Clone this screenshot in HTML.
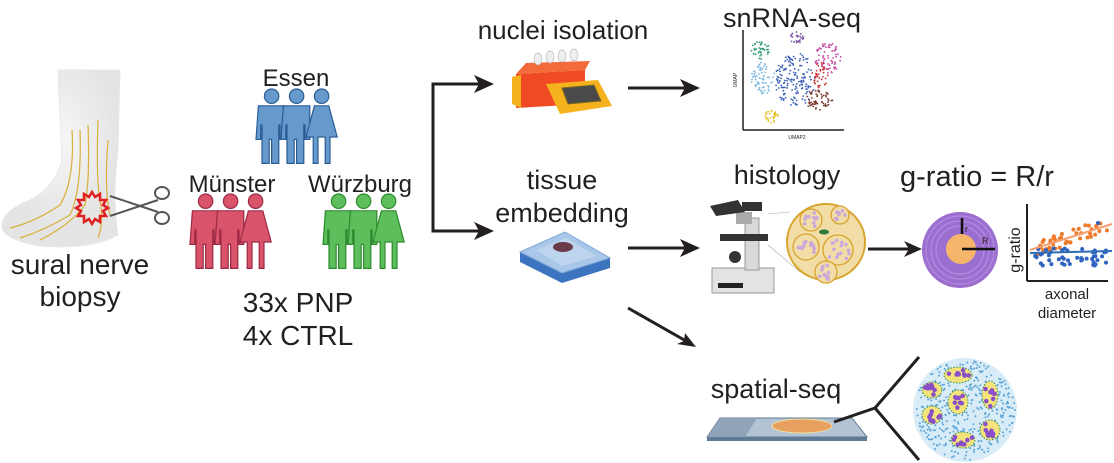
<!DOCTYPE html>
<html><head><meta charset="utf-8"><style>
body{margin:0;background:#fff;width:1114px;height:463px;overflow:hidden}
svg{display:block}
text{font-family:"Liberation Sans",Arial,sans-serif;fill:#231f20}
</style></head><body>
<svg id="s" width="1114" height="463" viewBox="0 0 1114 463" xmlns="http://www.w3.org/2000/svg">
<defs>
<radialGradient id="foot" cx="0.5" cy="0.4"><stop offset="0" stop-color="#f6f6f6"/><stop offset="1" stop-color="#e4e4e4"/></radialGradient>
</defs>
<!-- foot -->
<path d="M58,70 L120,70 L118,150 Q112,200 118,235 Q90,250 40,246 Q5,240 2,228 Q0,212 30,200 Q55,188 62,160 Z" fill="url(#foot)" stroke="#e8e8e8"/>
<g stroke="#d9b03a" stroke-width="1.2" fill="none">
<path d="M72,130 Q75,180 60,205 Q35,222 10,228"/><path d="M80,130 Q82,190 70,215 Q45,230 20,238"/>
<path d="M88,125 Q90,180 85,205 Q70,225 40,240"/><path d="M98,120 Q96,180 100,200 Q104,222 98,238"/>
<path d="M108,140 Q104,190 110,215"/>
</g>
<path d="M92,192 l3,5 5,-3 0,6 6,0 -3,5 5,3 -5,3 3,5 -6,0 0,6 -5,-3 -3,5 -3,-5 -5,3 0,-6 -6,0 3,-5 -5,-3 5,-3 -3,-5 6,0 0,-6 5,3z" fill="none" stroke="#e02020" stroke-width="2.5"/>
<g stroke="#555" stroke-width="2" fill="none"><line x1="110" y1="196" x2="158" y2="212"/><line x1="110" y1="216" x2="158" y2="200"/>
<ellipse cx="162" cy="193" rx="7" ry="6"/><ellipse cx="162" cy="218" rx="7" ry="6"/></g>
<text x="80" y="274" font-size="28" text-anchor="middle">sural nerve</text>
<text x="80" y="306" font-size="28" text-anchor="middle">biopsy</text>
<g id="people"></g>
<text x="296" y="86" font-size="24" text-anchor="middle">Essen</text>
<text x="232" y="192" font-size="24" text-anchor="middle">Münster</text>
<text x="360" y="192" font-size="24" text-anchor="middle">Würzburg</text>
<text x="298" y="312" font-size="28" text-anchor="middle">33x PNP</text>
<text x="298" y="345" font-size="28" text-anchor="middle">4x CTRL</text>
<g stroke="#231f20" stroke-width="3" fill="none">
<polyline points="485,84 433,84 433,231 485,231"/>
<line x1="628" y1="88" x2="690" y2="88"/><line x1="628" y1="248" x2="690" y2="248"/>
<line x1="628" y1="308" x2="686" y2="341"/><line x1="868" y1="249" x2="912" y2="249"/>
</g>
<g fill="#231f20">
<path d="M494,84 l-20,-9 5,9 -5,9z"/><path d="M494,231 l-20,-9 5,9 -5,9z"/>
<path d="M700,88 l-20,-9 5,9 -5,9z"/><path d="M700,248 l-20,-9 5,9 -5,9z"/>
<path d="M922,249 l-18,-8 5,8 -5,8z"/>
<path d="M696,347 l-19,-3 7,-3 1,-8z"/>
</g>
<text x="563" y="39" font-size="26" text-anchor="middle">nuclei isolation</text>
<!-- heat block -->
<path d="M516,74 L585,70 L585,104 L516,108Z" fill="#f04a24"/>
<path d="M516,74 L526,63 L590,61 L585,70Z" fill="#f36b3a"/>
<path d="M546,84 L598,80 L612,106 L560,114 Z" fill="#f6b21c"/>
<path d="M562,88 L594,85 L601,101 L568,104Z" fill="#4a4a4a" stroke="#7a6a20"/>
<path d="M512,77 L521,75 L521,108 L512,104Z" fill="#f6b21c"/>
<g fill="#eee" stroke="#bbb" stroke-width=".7"><ellipse cx="538" cy="59" rx="4" ry="6"/><ellipse cx="550" cy="57" rx="4" ry="6"/><ellipse cx="562" cy="56" rx="4" ry="6"/><ellipse cx="574" cy="55" rx="4" ry="6"/></g>
<text x="792" y="27" font-size="27" text-anchor="middle">snRNA-seq</text>
<g stroke="#231f20" stroke-width="1.5"><line x1="743" y1="30" x2="743" y2="130"/><line x1="743" y1="130" x2="844" y2="130"/></g>
<text x="737" y="80" font-size="5" transform="rotate(-90 737 80)" text-anchor="middle">UMAP</text>
<text x="797" y="139" font-size="5" text-anchor="middle">UMAP2</text>
<g id="umap"></g>
<text x="562" y="189" font-size="27" text-anchor="middle">tissue</text>
<text x="562" y="222" font-size="27" text-anchor="middle">embedding</text>
<!-- embedding plate -->
<path d="M520,262 L562,283 L610,268 L610,258 L562,273 L520,252Z" fill="#3d74c0"/>
<path d="M520,252 L565,232 L610,258 L562,273Z" fill="#a9c7e8" stroke="#7ea6d6"/>
<path d="M536,250 L566,238 L597,256 L562,266Z" fill="#bcd4ee"/>
<ellipse cx="563" cy="247" rx="10" ry="5" fill="#6b3a48"/>
<text x="787" y="184" font-size="27" text-anchor="middle">histology</text>
<!-- microscope -->
<g>
<rect x="712" y="268" width="62" height="25" fill="#e3e3e3" stroke="#999"/>
<rect x="745" y="218" width="14" height="52" fill="#d8d8d8" stroke="#999"/>
<rect x="720" y="234" width="48" height="7" fill="#333"/>
<rect x="736" y="212" width="16" height="12" fill="#aaa"/>
<path d="M710,206 L738,200 L745,212 L716,216Z" fill="#333"/>
<rect x="742" y="202" width="20" height="9" fill="#333"/>
<circle cx="735" cy="257" r="6" fill="#333"/>
<rect x="718" y="283" width="25" height="5" fill="#222"/>
</g>
<g stroke="#aaa" stroke-width=".6"><line x1="768" y1="214" x2="790" y2="212"/><line x1="768" y1="245" x2="800" y2="272"/></g>
<ellipse cx="826" cy="242" rx="39" ry="38" fill="#f3dda6" stroke="#d7a42e" stroke-width="2"/>
<g id="fasc"></g>
<text x="900" y="186" font-size="29">g-ratio = R/r</text>
<circle cx="960" cy="250" r="38" fill="#9b6fd0"/>
<g fill="none" stroke="#b790e0" stroke-width="1"><circle cx="960" cy="250" r="34"/><circle cx="960" cy="250" r="29"/><circle cx="960" cy="250" r="24"/></g>
<circle cx="961" cy="249" r="15" fill="#f5b56b"/>
<g stroke="#111" stroke-width="2.5"><line x1="962" y1="218" x2="962" y2="234"/><line x1="962" y1="249" x2="995" y2="249"/></g>
<text x="965" y="232" font-size="9">r</text><text x="982" y="244" font-size="9">R</text>
<g stroke="#231f20" stroke-width="2"><line x1="1027" y1="204" x2="1027" y2="281"/><line x1="1027" y1="281" x2="1108" y2="281"/></g>
<text x="1020" y="250" font-size="16" text-anchor="middle" transform="rotate(-90 1020 250)">g-ratio</text>
<g id="gr"></g>
<line x1="1030" y1="250" x2="1112" y2="224" stroke="#f5a070" stroke-width="2"/>
<line x1="1030" y1="253" x2="1112" y2="251" stroke="#2f6db5" stroke-width="2"/>
<text x="1067" y="299" font-size="15" text-anchor="middle">axonal</text>
<text x="1067" y="318" font-size="15" text-anchor="middle">diameter</text>
<text x="776" y="398" font-size="27" text-anchor="middle">spatial-seq</text>
<path d="M707,437 L867,437 L852,418 L720,418Z" fill="#b4c3d3" stroke="#5f7a95"/>
<path d="M707,437 L867,437 L867,441 L707,441Z" fill="#5f7a95"/>
<path d="M720,418 L757,418 L745,437 L707,437Z" fill="#8fa4b8"/>
<ellipse cx="802" cy="426" rx="30" ry="7" fill="#e8a060" stroke="#f3e0a0"/>
<g stroke="#231f20" stroke-width="3" fill="none"><polyline points="834,422 875,408 919,357"/><line x1="875" y1="408" x2="919" y2="460"/></g>
<circle cx="965" cy="410" r="52" fill="#d8ecf7"/>
<g id="sp"></g>
</svg>
<script>
var NS="http://www.w3.org/2000/svg",s=1;
function r(){s=(s*16807)%2147483647;return s/2147483647;}
function el(p,t,a){var e=document.createElementNS(NS,t);for(var k in a)e.setAttribute(k,a[k]);document.getElementById(p).appendChild(e);return e;}
function person(x,y,c,d,f){var g=el("people","g",{transform:"translate("+x+","+y+") scale(1.2)"});g.id="p"+x+"_"+y;var id=g.id;
 el(id,"circle",{cx:13,cy:6,r:6,fill:c,stroke:d});
 if(f){el(id,"path",{d:"M7,14 h12 l7,26 h-6 v22 h-4 v-22 h-6 v22 h-4 v-22 h-6z",fill:c,stroke:d});}
 else el(id,"path",{d:"M2,14 h22 v28 h-4 v-12 h-1 v32 h-6 v-20 h-2 v20 h-6 v-32 h-1 v12 h-4z",fill:c,stroke:d});}
function grp(x,y,c,d){person(x,y,c,d);person(x+25,y,c,d);person(x+50,y,c,d,1);}
grp(256,89,"#6699cc","#2a5d95");grp(190,194,"#d9536a","#9c2a44");grp(323,194,"#5cbf5c","#2d8a2d");
function cl(g,cx,cy,rx,ry,n,c,rad){for(var i=0;i<n;i++){var a=r()*6.283,d=Math.sqrt(r());el(g,"circle",{cx:cx+Math.cos(a)*rx*d,cy:cy+Math.sin(a)*ry*d,r:rad,fill:c});}}
cl("umap",761,50,10,9,40,"#2e9a78",.9);cl("umap",797,38,7,7,25,"#7d52a8",.9);cl("umap",828,58,13,16,70,"#c34aa8",.9);
cl("umap",763,78,12,16,70,"#7ab8e0",.9);cl("umap",795,80,20,28,160,"#3a5fb8",.9);cl("umap",820,75,8,13,40,"#c9353a",.9);
cl("umap",819,100,14,10,60,"#7a3a30",.9);cl("umap",772,117,8,7,30,"#e6c12a",.9);
var fs=[[811,220,11],[840,215,9],[806,247,13],[838,250,15],[826,272,11]];
fs.forEach(function(f){el("fasc","circle",{cx:f[0],cy:f[1],r:f[2],fill:"#f3dda6",stroke:"#d7a42e","stroke-width":1.3});cl("fasc",f[0],f[1],f[2]-3,f[2]-3,Math.round(f[2]*0.9),"#c9a8dc",1.8);});
el("fasc","ellipse",{cx:824,cy:232,rx:5,ry:2.5,fill:"#2b7a3a"});
for(var i=0;i<45;i++){var x=1035+r()*72;el("gr","circle",{cx:x,cy:248-(x-1035)*0.3+(r()-.5)*16,r:2,fill:"#f07a2a"});}
for(var i=0;i<45;i++){var x=1035+r()*72;el("gr","circle",{cx:x,cy:257+(r()-.5)*18,r:2,fill:"#2f63c0"});}
el("gr","circle",{cx:1098,cy:223,r:2,fill:"#2f63c0"});
for(var i=0;i<420;i++){var a=r()*6.283,d=Math.sqrt(r())*50;el("sp","circle",{cx:965+Math.cos(a)*d,cy:410+Math.sin(a)*d,r:1,fill:"#5ba3d6"});}
[[958,375,14,8],[932,390,10,8],[990,395,8,14],[958,402,10,12],[932,415,10,9],[963,440,12,8],[990,430,10,10]].forEach(function(f){el("sp","ellipse",{cx:f[0],cy:f[1],rx:f[2],ry:f[3],fill:"#f4e27a",stroke:"#2e8a5a","stroke-dasharray":"1.5 1.5"});cl("sp",f[0],f[1],f[2]-2,f[3]-2,8,"#8a4fc8",2.3);});
</script>
</body></html>
